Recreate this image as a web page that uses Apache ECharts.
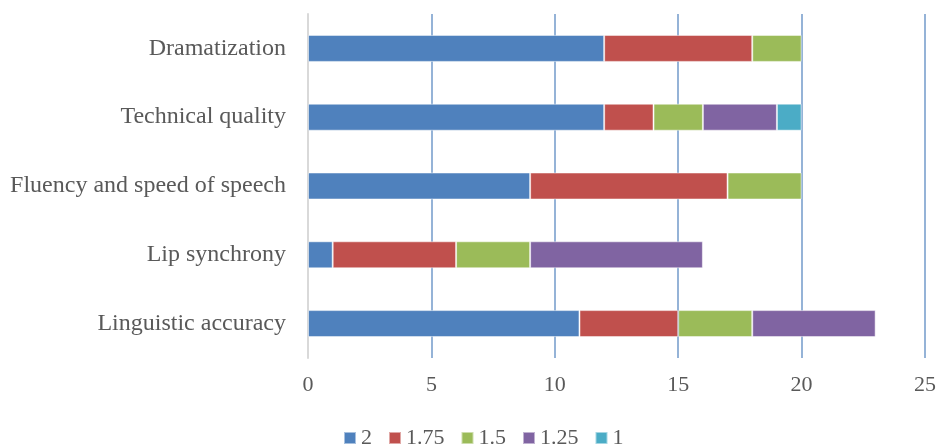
<!DOCTYPE html>
<html>
<head>
<meta charset="utf-8">
<script src="https://cdn.jsdelivr.net/npm/echarts@6/dist/echarts.min.js"></script>
<style>html,body{margin:0;padding:0;background:#fff;}#c{width:939px;height:445px;}</style>
</head>
<body>
<div id="c"></div>
<script>
var categories = ['Linguistic accuracy', 'Lip synchrony', 'Fluency and speed of speech', 'Technical quality', 'Dramatization'];
var seriesNames = ['2', '1.75', '1.5', '1.25', '1'];
var s2 = [11, 1, 9, 12, 12];
var s175 = [4, 5, 8, 2, 6];
var s15 = [3, 3, 3, 2, 2];
var s125 = [5, 7, 0, 3, 0];
var s1 = [0, 0, 0, 1, 0];
var colors = ['#4F81BD', '#C0504D', '#9BBB59', '#8064A2', '#4BACC6'];
var values = [s2, s175, s15, s125, s1];

var font = '"Liberation Serif", "Times New Roman", serif';
var chart = echarts.init(document.getElementById('c'));
chart.setOption({
  animation: false,
  textStyle: { fontFamily: font },
  grid: { left: 308, right: 14, top: 14, bottom: 87, containLabel: false },
  legend: {
    top: 422, left: 338, itemWidth: 12, itemHeight: 12, itemGap: 16,
    icon: 'rect',
    textStyle: { fontFamily: font, fontSize: 22, color: '#595959' },
    data: seriesNames
  },
  xAxis: {
    type: 'value', min: 0, max: 25, interval: 5,
    axisLine: { show: false }, axisTick: { show: false },
    splitLine: { lineStyle: { color: '#95B3D7', width: 2 } },
    axisLabel: { fontFamily: font, fontSize: 22, color: '#595959', margin: 16 }
  },
  yAxis: {
    type: 'category', data: categories,
    axisLine: { show: true, lineStyle: { color: '#D9D9D9', width: 2 } },
    axisTick: { show: false },
    axisLabel: { fontFamily: font, fontSize: 24, color: '#595959', margin: 22 }
  },
  series: seriesNames.map(function (n, i) {
    return {
      name: n, type: 'bar', stack: 'total', barWidth: 27,
      itemStyle: { color: colors[i], borderColor: 'rgba(255,255,255,0.5)', borderWidth: 1 },
      data: values[i].map(function (v) { return v === 0 ? null : v; })
    };
  })
});
</script>
</body>
</html>
